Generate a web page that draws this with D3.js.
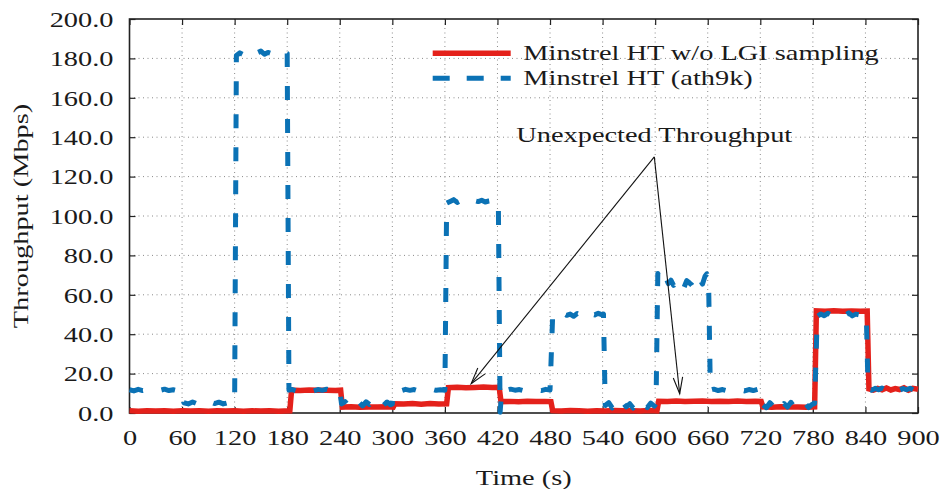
<html>
<head>
<script src="https://d3js.org/d3.v7.min.js"></script>
</head>

<style>
body { margin:0; background:#fff; }
text { font-family: "Liberation Serif", "Times New Roman", serif; font-size: 21.5px; fill: #1a1a1a; }
</style>

<body>
<script>

var width = 941;
var height = 489;
var margin = {top:19, right:23, bottom:76, left:129.5};
var w = width - margin.left - margin.right;
var h = height - margin.top - margin.bottom;
var SX = 1.32; // horizontal stretch so the serif face is as wide as the original

// ticks and labels
var xTicks = [0, 60, 120, 180, 240, 300, 360, 420, 480, 540, 600, 660, 720, 780, 840, 900];
var yTicks = [0, 20, 40, 60, 80, 100, 120, 140, 160, 180, 200];
var seriesNames = ["Minstrel HT w/o LGI sampling", "Minstrel HT (ath9k)"];
var seriesColors = ["#e4211b", "#0b72b5"];

// Minstrel HT w/o LGI sampling
var redTime = [0, 10, 20, 30, 40, 50, 60, 70, 80, 90, 100, 110, 120, 130, 140, 150, 160, 170, 183,
  185, 195, 205, 215, 225, 235, 241,
  243, 253, 263, 273, 283, 293, 301,
  303, 313, 323, 333, 343, 353, 362,
  364, 374, 384, 394, 404, 414, 422,
  424, 434, 444, 454, 464, 474, 481,
  483, 493, 503, 513, 523, 533, 543, 553, 563, 573, 583, 593, 602,
  604, 614, 624, 634, 644, 654, 664, 674, 684, 694, 704, 714, 721,
  723, 733, 743, 753, 763, 773, 782,
  784, 794, 804, 814, 824, 834, 842,
  844, 849, 854, 859, 864, 869, 874, 879, 884, 889, 894, 900];
var redThr = [1.2, 0.9, 1.1, 1.0, 1.2, 0.9, 1.1, 1.0, 1.2, 0.9, 1.1, 1.0, 1.2, 0.9, 1.1, 1.0, 1.2, 0.9, 1.1,
  11.6, 11.4, 11.7, 11.5, 11.6, 11.4, 11.6,
  3.0, 3.2, 2.9, 3.1, 3.0, 3.2, 3.0,
  4.7, 4.6, 4.8, 4.5, 4.8, 4.6, 4.7,
  12.9, 13.1, 12.8, 13.0, 13.2, 12.9, 13.0,
  5.8, 5.9, 5.7, 6.0, 5.8, 5.9, 5.8,
  1.2, 1.0, 1.3, 1.1, 0.9, 1.2, 1.0, 1.3, 1.1, 1.2, 1.0, 1.3, 1.1,
  6.0, 5.9, 6.1, 5.8, 6.0, 6.1, 5.9, 6.0, 5.8, 6.1, 5.9, 6.0, 5.9,
  3.1, 2.9, 3.2, 3.0, 3.1, 2.9, 3.1,
  51.8, 51.6, 51.9, 51.7, 51.8, 51.6, 51.7,
  12.2, 11.6, 12.5, 11.8, 12.7, 11.7, 12.4, 11.9, 12.8, 11.6, 12.5, 12.1];

// Minstrel HT (ath9k)
var blueTime = [0, 5, 10, 15, 20, 25, 30, 35, 40, 45, 50, 55, 60,
  62, 67, 72, 77, 82, 87, 92, 97, 102, 107, 112, 117, 120,
  122, 126, 130, 134, 138, 142, 146, 150, 154, 158, 162, 166, 170, 174, 178, 180,
  182, 186, 190, 195, 200, 205, 210, 215, 220, 225, 230, 235, 240,
  242, 246, 250, 254, 258, 262, 266, 270, 274, 278, 282, 286, 290, 294, 298, 300,
  302, 306, 310, 315, 320, 325, 330, 335, 340, 345, 350, 355, 360,
  362, 366, 370, 374, 378, 382, 386, 390, 394, 398, 402, 406, 410, 414, 418, 421,
  423, 425, 430, 435, 440, 445, 450, 455, 460, 465, 470, 475, 480,
  483, 487, 491, 495, 499, 503, 507, 511, 515, 519, 523, 527, 531, 535, 539, 541,
  543, 547, 551, 555, 559, 563, 567, 571, 575, 579, 583, 587, 591, 595, 599, 601,
  603, 606, 609, 612, 615, 618, 621, 624, 627, 630, 633, 636, 639, 642, 645, 648, 651, 654, 657, 659, 661,
  663, 667, 672, 677, 682, 687, 692, 697, 702, 707, 712, 717, 721,
  723, 727, 731, 735, 739, 743, 747, 751, 755, 759, 763, 767, 771, 775, 779, 782,
  785, 789, 793, 797, 801, 805, 809, 813, 817, 821, 825, 829, 833, 837, 841,
  843, 847, 851, 855, 859, 863, 867, 871, 875, 879, 883, 887, 891, 895, 900];
var blueThr = [11.8, 11.2, 12.0, 11.4, 11.9, 11.3, 11.8, 11.5, 12.1, 11.4, 11.8, 11.3, 11.7,
  5.2, 4.6, 5.6, 4.7, 5.3, 4.4, 5.7, 4.8, 5.5, 4.6, 5.2, 4.9, 5.0,
  181.5, 182.8, 181.9, 183.5, 182.3, 181.6, 182.9, 183.7, 182.1, 183.0, 182.4, 183.4, 182.0, 182.8, 183.2, 182.5,
  11.6, 11.9, 11.3, 12.0, 11.4, 11.8, 11.2, 11.9, 11.5, 12.1, 11.4, 11.8, 11.5,
  4.6, 5.8, 3.7, 5.9, 4.1, 5.5, 3.6, 5.7, 4.3, 5.9, 3.8, 5.2, 4.0, 5.6, 4.2, 4.6,
  11.4, 11.9, 11.3, 12.0, 11.5, 11.9, 11.2, 11.8, 11.4, 12.1, 11.5, 11.8, 11.6,
  106.5, 107.4, 108.3, 106.9, 107.8, 107.2, 108.1, 107.0, 107.7, 107.3, 108.0, 107.1, 107.6, 107.9, 107.2, 107.4,
  0.4, 11.9, 11.5, 12.1, 11.6, 11.9, 11.3, 12.0, 11.5, 11.8, 11.4, 12.0, 11.7,
  49.2, 50.4, 49.3, 50.7, 49.6, 50.2, 49.1, 50.5, 49.7, 50.9, 49.4, 50.3, 49.8, 50.6, 49.9, 50.2,
  3.8, 5.3, 2.6, 4.9, 2.9, 5.4, 3.1, 4.7, 2.5, 5.1, 3.2, 4.6, 2.8, 5.0, 3.5, 4.8,
  70.8, 68.2, 66.0, 68.9, 65.7, 67.4, 64.8, 66.9, 65.2, 66.6, 63.8, 67.2, 66.1, 64.9, 62.9, 66.8, 67.9, 65.4, 69.5, 70.6, 66.0,
  11.6, 12.1, 11.4, 11.9, 11.3, 12.0, 11.5, 11.8, 11.2, 11.9, 11.4, 12.0, 11.6,
  4.1, 2.7, 5.2, 3.3, 5.5, 2.6, 4.8, 3.0, 5.4, 2.9, 4.6, 3.4, 5.1, 2.8, 4.3, 4.9,
  49.0, 50.3, 49.4, 50.6, 49.7, 50.1, 49.2, 50.5, 49.6, 50.8, 49.3, 50.2, 49.8, 50.5, 49.9,
  12.4, 11.6, 12.5, 11.8, 12.7, 11.5, 12.3, 11.9, 12.8, 11.6, 12.4, 11.8, 12.6, 11.7, 12.3];

// annotation (data coordinates)
var noteText = "Unexpected Throughput";
var noteFrom = [599, 130];
var noteTips = [[390, 14.9], [628, 9.8]];

var x = d3.scaleLinear().domain([0, 900]).range([0, w]);
var y = d3.scaleLinear().domain([0, 200]).range([h, 0]);

var svg = d3.select("body").append("svg")
    .attr("width", width)
    .attr("height", height)
    .append("g")
    .attr("transform", "translate(" + margin.left + "," + margin.top + ")");

// dotted grid
svg.append("g").selectAll("line")
  .data(xTicks.slice(1, -1))
  .enter().append("line")
    .attr("x1", x).attr("x2", x)
    .attr("y1", 0).attr("y2", h)
    .attr("stroke", "#8a8a8a").attr("stroke-width", 1)
    .attr("stroke-dasharray", "1,3.5");

svg.append("g").selectAll("line")
  .data(yTicks.slice(1, -1))
  .enter().append("line")
    .attr("y1", y).attr("y2", y)
    .attr("x1", 0).attr("x2", w)
    .attr("stroke", "#8a8a8a").attr("stroke-width", 1)
    .attr("stroke-dasharray", "1,3.5");

// axes, ticks pointing inward on all four sides
var gx = svg.append("g")
    .attr("transform", "translate(0," + h + ")")
    .call(d3.axisBottom(x).tickValues(xTicks).tickSizeInner(-6).tickSizeOuter(0));
gx.selectAll("text")
    .attr("y", 32).attr("dy", null)
    .attr("transform", "scale(" + SX + ",1)");

var gy = svg.append("g")
    .call(d3.axisLeft(y).tickValues(yTicks).tickSizeInner(-6).tickSizeOuter(0).tickFormat(d3.format(".1f")));
gy.selectAll("text")
    .attr("x", -16 / SX).attr("dy", "0.34em")
    .attr("transform", "scale(" + SX + ",1)");

svg.append("g")
    .call(d3.axisTop(x).tickValues(xTicks).tickSizeInner(-6).tickSizeOuter(0).tickFormat(""));
svg.append("g")
    .attr("transform", "translate(" + w + ",0)")
    .call(d3.axisRight(y).tickValues(yTicks).tickSizeInner(-6).tickSizeOuter(0).tickFormat(""));

svg.selectAll(".domain").remove();
svg.selectAll(".tick line").attr("stroke", "#222").attr("stroke-width", 1.2);

svg.append("rect")
    .attr("width", w).attr("height", h)
    .attr("fill", "none").attr("stroke", "#222").attr("stroke-width", 1.6);

// series
var line = d3.line()
    .x(function(d) { return x(d[0]); })
    .y(function(d) { return y(d[1]); });

var redData = redTime.map(function(t, i) { return [t, redThr[i]]; });
var blueData = blueTime.map(function(t, i) { return [t, blueThr[i]]; });

svg.append("path")
    .datum(redData)
    .attr("d", line)
    .attr("fill", "none")
    .attr("stroke", seriesColors[0])
    .attr("stroke-width", 5.5)
    .attr("stroke-linejoin", "miter");

svg.append("path")
    .datum(blueData)
    .attr("d", line)
    .attr("fill", "none")
    .attr("stroke", seriesColors[1])
    .attr("stroke-width", 5)
    .attr("stroke-dasharray", "14,19")
    .attr("stroke-linejoin", "round");

// annotation with two open arrows
var ax = x(noteFrom[0]), ay = y(noteFrom[1]);
var note = svg.append("g");
note.append("text")
    .attr("transform", "translate(" + ax + "," + (ay - 14.5) + ") scale(" + SX + ",1)")
    .attr("text-anchor", "middle")
    .text(noteText);

noteTips.forEach(function(p) {
  var tx = x(p[0]), ty = y(p[1]);
  var ang = Math.atan2(ty - ay, tx - ax);
  var len = 17, spread = 0.28;
  note.append("line")
    .attr("x1", ax).attr("y1", ay).attr("x2", tx).attr("y2", ty)
    .attr("stroke", "#111").attr("stroke-width", 1.1);
  note.append("path")
    .attr("d", "M" + (tx - len * Math.cos(ang - spread)) + "," + (ty - len * Math.sin(ang - spread)) +
               "L" + tx + "," + ty +
               "L" + (tx - len * Math.cos(ang + spread)) + "," + (ty - len * Math.sin(ang + spread)))
    .attr("fill", "none").attr("stroke", "#111").attr("stroke-width", 1.1);
});

// legend
var legend = svg.append("g")
    .attr("transform", "translate(303.2,34.3)")
  .selectAll("g")
  .data(seriesNames)
  .enter().append("g")
    .attr("transform", function(d, i) { return "translate(0," + (i * 25) + ")"; });

legend.append("line")
    .attr("x1", 0).attr("x2", 78)
    .attr("stroke", function(d, i) { return seriesColors[i]; })
    .attr("stroke-width", function(d, i) { return i == 0 ? 5.5 : 5; })
    .attr("stroke-dasharray", function(d, i) { return i == 0 ? null : "17,17"; });

legend.append("text")
    .attr("transform", "translate(90.6,6.8) scale(" + SX + ",1)")
    .text(function(d) { return d; });

// axis titles
svg.append("text")
    .attr("transform", "translate(" + (w / 2) + "," + (h + 72) + ") scale(" + SX + ",1)")
    .attr("text-anchor", "middle")
    .text("Time (s)");

svg.append("text")
    .attr("transform", "translate(" + (28.3 - margin.left) + "," + (h / 2) + ") rotate(-90) scale(" + SX + ",1)")
    .attr("text-anchor", "middle")
    .text("Throughput (Mbps)");

</script>
</body>
</html>
